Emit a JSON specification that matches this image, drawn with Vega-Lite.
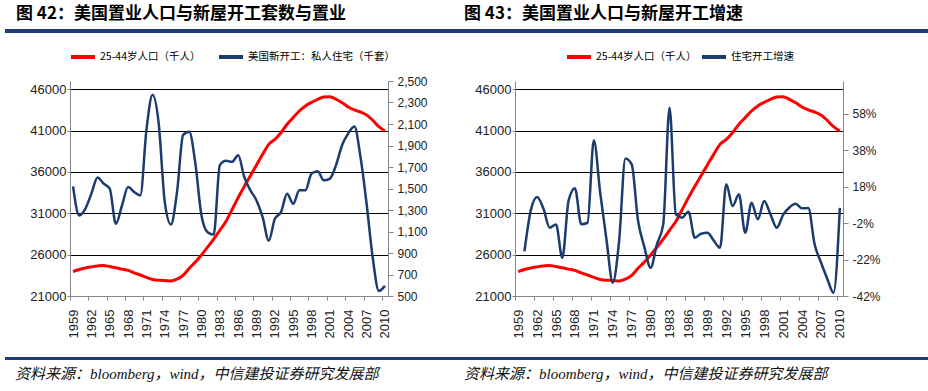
{
  "$schema": "https://vega.github.io/schema/vega-lite/v6.json",
  "padding": {"left": 5, "top": 5, "right": 0, "bottom": 0},
  "background": "white",
  "config": {
    "view": {"stroke": null},
    "axis": {"domainColor": "#868686", "tickColor": "#868686", "labelColor": "#222222", "labelFont": "Liberation Sans", "labelFontSize": 13, "titleFont": "Liberation Sans"},
    "line": {"interpolate": "monotone"}
  },
  "datasets": {
    "d": [
      {"year": 1959, "pop": 23940, "starts": 1520, "growth": null},
      {"year": 1960, "pop": 24200, "starts": 1250, "growth": -17.5},
      {"year": 1961, "pop": 24390, "starts": 1311, "growth": 5},
      {"year": 1962, "pop": 24520, "starts": 1452, "growth": 12.3},
      {"year": 1963, "pop": 24630, "starts": 1602, "growth": 6},
      {"year": 1964, "pop": 24700, "starts": 1546, "growth": -4.5},
      {"year": 1965, "pop": 24560, "starts": 1499, "growth": -2.7},
      {"year": 1966, "pop": 24420, "starts": 1171, "growth": -21},
      {"year": 1967, "pop": 24250, "starts": 1342, "growth": 10.5},
      {"year": 1968, "pop": 24100, "starts": 1514, "growth": 17.2},
      {"year": 1969, "pop": 23800, "starts": 1467, "growth": -2.6},
      {"year": 1970, "pop": 23540, "starts": 1436, "growth": -1.8},
      {"year": 1971, "pop": 23250, "starts": 2044, "growth": 43.5},
      {"year": 1972, "pop": 23000, "starts": 2372, "growth": 14.8},
      {"year": 1973, "pop": 22900, "starts": 2107, "growth": -11},
      {"year": 1974, "pop": 22880, "starts": 1373, "growth": -34.7},
      {"year": 1975, "pop": 22820, "starts": 1165, "growth": -12},
      {"year": 1976, "pop": 23050, "starts": 1467, "growth": 33.5},
      {"year": 1977, "pop": 23500, "starts": 1998, "growth": 30.2},
      {"year": 1978, "pop": 24350, "starts": 2029, "growth": -0.5},
      {"year": 1979, "pop": 25100, "starts": 1733, "growth": -15},
      {"year": 1980, "pop": 25960, "starts": 1249, "growth": -26.5},
      {"year": 1981, "pop": 26900, "starts": 1093, "growth": -13.6},
      {"year": 1982, "pop": 27890, "starts": 1071, "growth": -2.7},
      {"year": 1983, "pop": 28950, "starts": 1717, "growth": 61.3},
      {"year": 1984, "pop": 30000, "starts": 1757, "growth": 2.8},
      {"year": 1985, "pop": 31450, "starts": 1748, "growth": 1.0},
      {"year": 1986, "pop": 32900, "starts": 1810, "growth": 4.3},
      {"year": 1987, "pop": 34250, "starts": 1607, "growth": -10},
      {"year": 1988, "pop": 35550, "starts": 1483, "growth": -7.8},
      {"year": 1989, "pop": 36850, "starts": 1389, "growth": -7.3},
      {"year": 1990, "pop": 38130, "starts": 1233, "growth": -11.5},
      {"year": 1991, "pop": 39340, "starts": 1015, "growth": -15.5},
      {"year": 1992, "pop": 39950, "starts": 1218, "growth": 19.3},
      {"year": 1993, "pop": 40750, "starts": 1280, "growth": 7.4},
      {"year": 1994, "pop": 41770, "starts": 1452, "growth": 13.8},
      {"year": 1995, "pop": 42570, "starts": 1358, "growth": -7.3},
      {"year": 1996, "pop": 43370, "starts": 1483, "growth": 9.2},
      {"year": 1997, "pop": 43980, "starts": 1483, "growth": 0.1},
      {"year": 1998, "pop": 44420, "starts": 1639, "growth": 10.1},
      {"year": 1999, "pop": 44790, "starts": 1661, "growth": 2.8},
      {"year": 2000, "pop": 45070, "starts": 1576, "growth": -4.5},
      {"year": 2001, "pop": 45110, "starts": 1592, "growth": 2.5},
      {"year": 2002, "pop": 44790, "starts": 1717, "growth": 6.6},
      {"year": 2003, "pop": 44380, "starts": 1904, "growth": 8.6},
      {"year": 2004, "pop": 43860, "starts": 2013, "growth": 6.1},
      {"year": 2005, "pop": 43500, "starts": 2076, "growth": 6.3},
      {"year": 2006, "pop": 43250, "starts": 1794, "growth": -13.6},
      {"year": 2007, "pop": 42890, "starts": 1358, "growth": -23.5},
      {"year": 2008, "pop": 42250, "starts": 858, "growth": -32.5},
      {"year": 2009, "pop": 41480, "starts": 547, "growth": -40.2},
      {"year": 2010, "pop": 40960, "starts": 594, "growth": 6.4}
    ]
  },
  "spacing": 4,
  "resolve": {"scale": {"color": "independent"}, "legend": {"color": "independent"}},
  "vconcat": [
    {
      "spacing": 0,
      "hconcat": [
        {
          "width": 459, "height": 4,
          "data": {"values": [{"k": 1}]},
          "mark": {"type": "rect", "color": "#203C78"},
          "title": {"text": "图 42：美国置业人口与新屋开工套数与置业", "anchor": "start", "dx": 11, "offset": -11, "baseline": "bottom", "fontSize": 17, "font": "Noto Sans CJK SC", "fontWeight": "bold", "color": "#000000"}
        },
        {
          "width": 464, "height": 4,
          "data": {"values": [{"k": 1}]},
          "mark": {"type": "rect", "color": "#203C78"},
          "title": {"text": "图 43：美国置业人口与新屋开工增速", "anchor": "start", "dx": 0, "offset": -11, "baseline": "bottom", "fontSize": 17, "font": "Noto Sans CJK SC", "fontWeight": "bold", "color": "#000000"}
        }
      ]
    },
    {
      "spacing": 0,
      "resolve": {"scale": {"color": "independent"}, "legend": {"color": "independent"}},
      "hconcat": [
        {
          "width": 1, "height": 1,
          "data": {"values": [{"k": 1}]},
          "mark": {"type": "rect", "opacity": 0}
        },
        {
          "width": 318, "height": 215,
          "data": {"name": "d"},
          "layer": [
            {
              "mark": {"type": "line", "color": "#FF0000", "strokeWidth": 3},
              "encoding": {
                "x": {"field": "year", "type": "quantitative", "scale": {"domain": [1958.5, 2010.5], "nice": false, "zero": false},
                  "axis": {"values": [1959, 1962, 1965, 1968, 1971, 1974, 1977, 1980, 1983, 1986, 1989, 1992, 1995, 1998, 2001, 2004, 2007, 2010], "tickCount": 40, "format": "d", "labelOverlap": false, "labelAngle": 270, "labelAlign": "right", "labelBaseline": "middle", "tickOffset": -3.06, "labelOffset": 3.06, "grid": false, "title": null, "tickSize": 4, "labelPadding": 9, "minExtent": 57, "maxExtent": 57, "zindex": 1}},
                "y": {"field": "pop", "type": "quantitative", "scale": {"domain": [21000, 47000], "nice": false, "zero": false},
                  "axis": {"values": [21000, 26000, 31000, 36000, 41000, 46000], "tickCount": 20, "format": "d", "grid": true, "gridColor": "#000000", "gridWidth": 1, "title": null, "tickSize": 3, "labelPadding": 1, "minExtent": 64, "maxExtent": 64}},
                "color": {"datum": "25-44岁人口（千人）",
                  "scale": {"domain": ["25-44岁人口（千人）", "美国新开工：私人住宅（千套）"], "range": ["#FF0000", "#1B3C6E"]},
                  "legend": {"orient": "none", "legendX": -7, "legendY": -44, "direction": "horizontal", "title": null, "symbolType": "stroke", "symbolSize": 576, "symbolStrokeWidth": 4, "labelFont": "Noto Sans CJK SC", "labelFontSize": 10.5, "labelColor": "#000000", "columnPadding": 10, "labelOffset": 3, "padding": 6}}
              }
            },
            {
              "mark": {"type": "line", "color": "#1B3C6E", "strokeWidth": 2.5},
              "encoding": {
                "x": {"field": "year", "type": "quantitative"},
                "y": {"field": "starts", "type": "quantitative", "scale": {"domain": [500, 2500], "nice": false, "zero": false},
                  "axis": {"orient": "right", "values": [500, 700, 900, 1100, 1300, 1500, 1700, 1900, 2100, 2300, 2500], "tickCount": 20, "format": ",d", "grid": false, "title": null, "tickSize": 5, "labelPadding": 4, "labelFontSize": 12, "minExtent": 76, "maxExtent": 76}},
                "color": {"datum": "美国新开工：私人住宅（千套）"}
              }
            }
          ],
          "resolve": {"scale": {"y": "independent"}}
        },
        {
          "width": 328, "height": 215,
          "data": {"name": "d"},
          "layer": [
            {
              "mark": {"type": "line", "color": "#FF0000", "strokeWidth": 3},
              "encoding": {
                "x": {"field": "year", "type": "quantitative", "scale": {"domain": [1958.5, 2010.5], "nice": false, "zero": false},
                  "axis": {"values": [1959, 1962, 1965, 1968, 1971, 1974, 1977, 1980, 1983, 1986, 1989, 1992, 1995, 1998, 2001, 2004, 2007, 2010], "tickCount": 40, "format": "d", "labelOverlap": false, "labelAngle": 270, "labelAlign": "right", "labelBaseline": "middle", "tickOffset": -3.15, "labelOffset": 3.15, "grid": false, "title": null, "tickSize": 4, "labelPadding": 9, "minExtent": 57, "maxExtent": 57, "zindex": 1}},
                "y": {"field": "pop", "type": "quantitative", "scale": {"domain": [21000, 47000], "nice": false, "zero": false},
                  "axis": {"values": [21000, 26000, 31000, 36000, 41000, 46000], "tickCount": 20, "format": "d", "grid": true, "gridColor": "#000000", "gridWidth": 1, "title": null, "tickSize": 3, "labelPadding": 1, "minExtent": 51, "maxExtent": 51}},
                "color": {"datum": "25-44岁人口（千人）",
                  "scale": {"domain": ["25-44岁人口（千人）", "住宅开工增速"], "range": ["#FF0000", "#1B3C6E"]},
                  "legend": {"orient": "none", "legendX": 44, "legendY": -44, "direction": "horizontal", "title": null, "symbolType": "stroke", "symbolSize": 576, "symbolStrokeWidth": 4, "labelFont": "Noto Sans CJK SC", "labelFontSize": 10.5, "labelColor": "#000000", "columnPadding": -3, "labelOffset": 3, "padding": 6}}
              }
            },
            {
              "mark": {"type": "line", "color": "#1B3C6E", "strokeWidth": 2.5},
              "encoding": {
                "x": {"field": "year", "type": "quantitative"},
                "y": {"field": "growth", "type": "quantitative", "scale": {"domain": [-42, 76], "nice": false, "zero": false},
                  "axis": {"orient": "right", "values": [-42, -22, -2, 18, 38, 58], "tickCount": 20, "labelExpr": "datum.value + '%'", "grid": false, "title": null, "tickSize": 5, "labelPadding": 4, "labelFontSize": 12}},
                "color": {"datum": "住宅开工增速"}
              }
            }
          ],
          "resolve": {"scale": {"y": "independent"}}
        }
      ]
    },
    {
      "spacing": 0,
      "hconcat": [
        {
          "width": 459, "height": 3,
          "data": {"values": [{"k": 1}]},
          "mark": {"type": "rect", "color": "#203C78"},
          "title": {"text": "资料来源：bloomberg，wind，中信建投证券研究发展部", "orient": "bottom", "anchor": "start", "dx": 10, "offset": 7, "fontSize": 15, "font": "Liberation Serif, Noto Sans CJK SC", "fontStyle": "italic", "fontWeight": "normal", "color": "#111111"}
        },
        {
          "width": 464, "height": 3,
          "data": {"values": [{"k": 1}]},
          "mark": {"type": "rect", "color": "#203C78"},
          "title": {"text": "资料来源：bloomberg，wind，中信建投证券研究发展部", "orient": "bottom", "anchor": "start", "dx": 0, "offset": 7, "fontSize": 15, "font": "Liberation Serif, Noto Sans CJK SC", "fontStyle": "italic", "fontWeight": "normal", "color": "#111111"}
        }
      ]
    }
  ]
}
